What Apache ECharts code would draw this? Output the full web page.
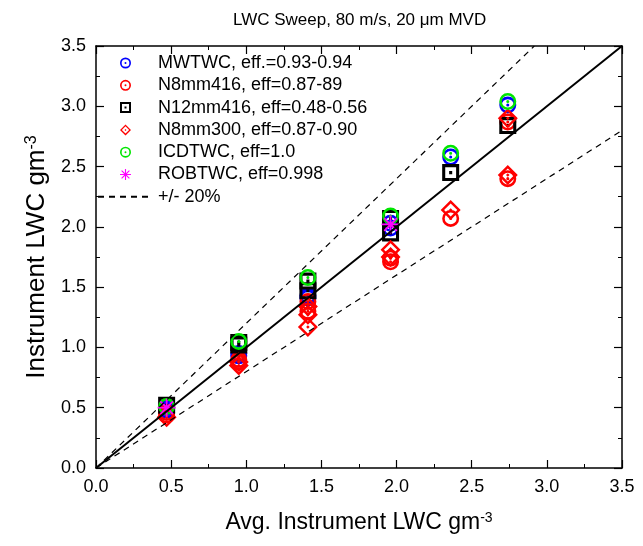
<!DOCTYPE html>
<html><head><meta charset="utf-8">
<script src="https://cdn.jsdelivr.net/npm/echarts@6/dist/echarts.min.js"></script>
<style>html,body{margin:0;padding:0;background:#fff}#c{width:643px;height:546px}</style>
</head><body><div id="c"></div>
<script>
// ---- data ----
const axisTicks = [0.0, 0.5, 1.0, 1.5, 2.0, 2.5, 3.0, 3.5];
const mwtwc   = [[0.47,0.48],[0.47,0.50],[0.95,0.93],[0.95,0.95],[1.41,1.41],[1.41,1.43],[1.96,1.99],[1.96,2.03],[2.36,2.58],[2.74,3.01]];
const n8mm416 = [[0.47,0.44],[0.47,0.46],[0.95,0.88],[0.95,0.90],[1.41,1.30],[1.41,1.38],[1.96,1.71],[1.96,1.74],[2.36,2.07],[2.74,2.40],[2.74,2.87]];
const n12mm416= [[0.47,0.52],[0.95,1.02],[0.95,1.04],[1.41,1.47],[1.41,1.55],[1.96,1.95],[1.96,2.07],[2.36,2.45],[2.74,2.84]];
const n8mm300 = [[0.47,0.42],[0.95,0.85],[0.95,0.88],[1.41,1.17],[1.41,1.27],[1.41,1.34],[1.96,1.75],[1.96,1.81],[2.36,2.14],[2.74,2.43],[2.74,2.90]];
const icdtwc  = [[0.47,0.51],[0.95,1.05],[1.41,1.58],[1.96,2.09],[2.36,2.61],[2.74,3.04]];
const robtwc  = [[0.47,0.50],[1.96,2.02]];
const oneToOne = [[0,0],[3.5,3.5]];
const plus20  = [[0,0],[3.5/1.2,3.5]];
const minus20 = [[0,0],[3.5,2.8]];
const seriesNames = ['MWTWC, eff.=0.93-0.94','N8mm416, eff=0.87-89','N12mm416, eff=0.48-0.56','N8mm300, eff=0.87-0.90','ICDTWC, eff=1.0','ROBTWC, eff=0.998','+/- 20%'];

// ---- symbols ----
const RING = 'path://M50 0A50 50 0 1 1 50 100A50 50 0 1 1 50 0ZM50 15A35 35 0 1 0 50 85A35 35 0 1 0 50 15ZM50 41A9 9 0 1 1 50 59A9 9 0 1 1 50 41Z';
const SQUARE = 'path://M0 0L100 0L100 100L0 100ZM18 18L18 82L82 82L82 18ZM41 41L59 41L59 59L41 59Z';
const DIAMOND = 'path://M50 0L100 50L50 100L0 50ZM50 17L17 50L50 83L83 50ZM50 41L59 50L50 59L41 50Z';
const ASTER = 'path://M0 45L100 45L100 55L0 55ZM45 0L55 0L55 100L45 100Z' +
  'M18.18 11.10L88.90 81.82L81.82 88.90L11.10 18.18Z' +
  'M11.10 81.82L81.82 11.10L88.90 18.18L18.18 88.90Z';

const FONT = '"Liberation Sans", Arial, sans-serif';
const chart = echarts.init(document.getElementById('c'), null, {renderer:'canvas'});

function baseAxis(extra) {
  return Object.assign({
    type: 'value', min: axisTicks[0], max: axisTicks[axisTicks.length-1], interval: 0.5,
    splitLine: {show:false},
    axisLine: {show:true, onZero:false, lineStyle:{color:'#000', width:1.5}},
    axisTick: {show:true, inside:true, length:8, lineStyle:{color:'#000', width:1.2}},
    minorTick: {show:true, splitNumber:2, length:4, lineStyle:{color:'#000', width:1}},
    axisLabel: {show:true, color:'#000', fontSize:18, fontFamily:FONT, margin:10,
      formatter: v => v.toFixed(1)}
  }, extra);
}
function nameStyle(fs) {
  return {color:'#000', fontSize:fs, fontFamily:FONT,
    rich:{sup:{fontSize:Math.round(fs*0.6), fontFamily:FONT, color:'#000', verticalAlign:'top', lineHeight:Math.round(fs*0.55)}}};
}

function scatter(name, data, symbol, size, color) {
  return {name, type:'scatter', data, symbol, symbolSize:size,
    itemStyle:{color, borderWidth:0, opacity:1}, emphasis:{disabled:true}};
}

chart.setOption({
  animation: false,
  backgroundColor: '#fff',
  title: {text:'LWC Sweep, 80 m/s, 20 \u03bcm MVD', left:228, top:7,
    textStyle:{color:'#000', fontSize:17, fontWeight:'normal', fontFamily:FONT}},
  grid: {left:96, right:21, top:46, bottom:78},
  legend: {orient:'vertical', left:97, top:54, padding:0, itemGap:4.3, itemWidth:55, itemHeight:11,
    data: seriesNames, selectedMode:false,
    textStyle:{color:'#000', fontSize:18, fontFamily:FONT, lineHeight:18}},
  xAxis: [
    baseAxis({position:'bottom', name:'Avg. Instrument LWC gm{sup|-3}', nameLocation:'middle', nameGap:43, nameTextStyle:nameStyle(23)}),
    baseAxis({position:'top', axisLabel:{show:false}})
  ],
  yAxis: [
    baseAxis({position:'left', name:'Instrument LWC gm{sup|-3}', nameLocation:'middle', nameGap:39, nameTextStyle:nameStyle(26)}),
    baseAxis({position:'right', axisLabel:{show:false}})
  ],
  series: [
    {name:'1:1', type:'line', data:oneToOne, symbol:'none', lineStyle:{color:'#000', width:2}, silent:true},
    {name:'+/- 20%', type:'line', data:plus20, symbol:'none', lineStyle:{color:'#000', width:1.2, type:[6,5]}, itemStyle:{color:'rgba(0,0,0,0)'}, silent:true},
    {name:'+/- 20%', type:'line', data:minus20, symbol:'none', lineStyle:{color:'#000', width:1.2, type:[6,5]}, itemStyle:{color:'rgba(0,0,0,0)'}, silent:true},
    scatter(seriesNames[0], mwtwc, RING, 17, '#0000ff'),
    scatter(seriesNames[1], n8mm416, RING, 17, '#ff0000'),
    scatter(seriesNames[2], n12mm416, SQUARE, 17, '#000000'),
    scatter(seriesNames[3], n8mm300, DIAMOND, 20, '#ff0000'),
    scatter(seriesNames[4], icdtwc, RING, 17, '#00e600'),
    scatter(seriesNames[5], robtwc, ASTER, 18, '#ff00ff')
  ]
});
</script></body></html>
